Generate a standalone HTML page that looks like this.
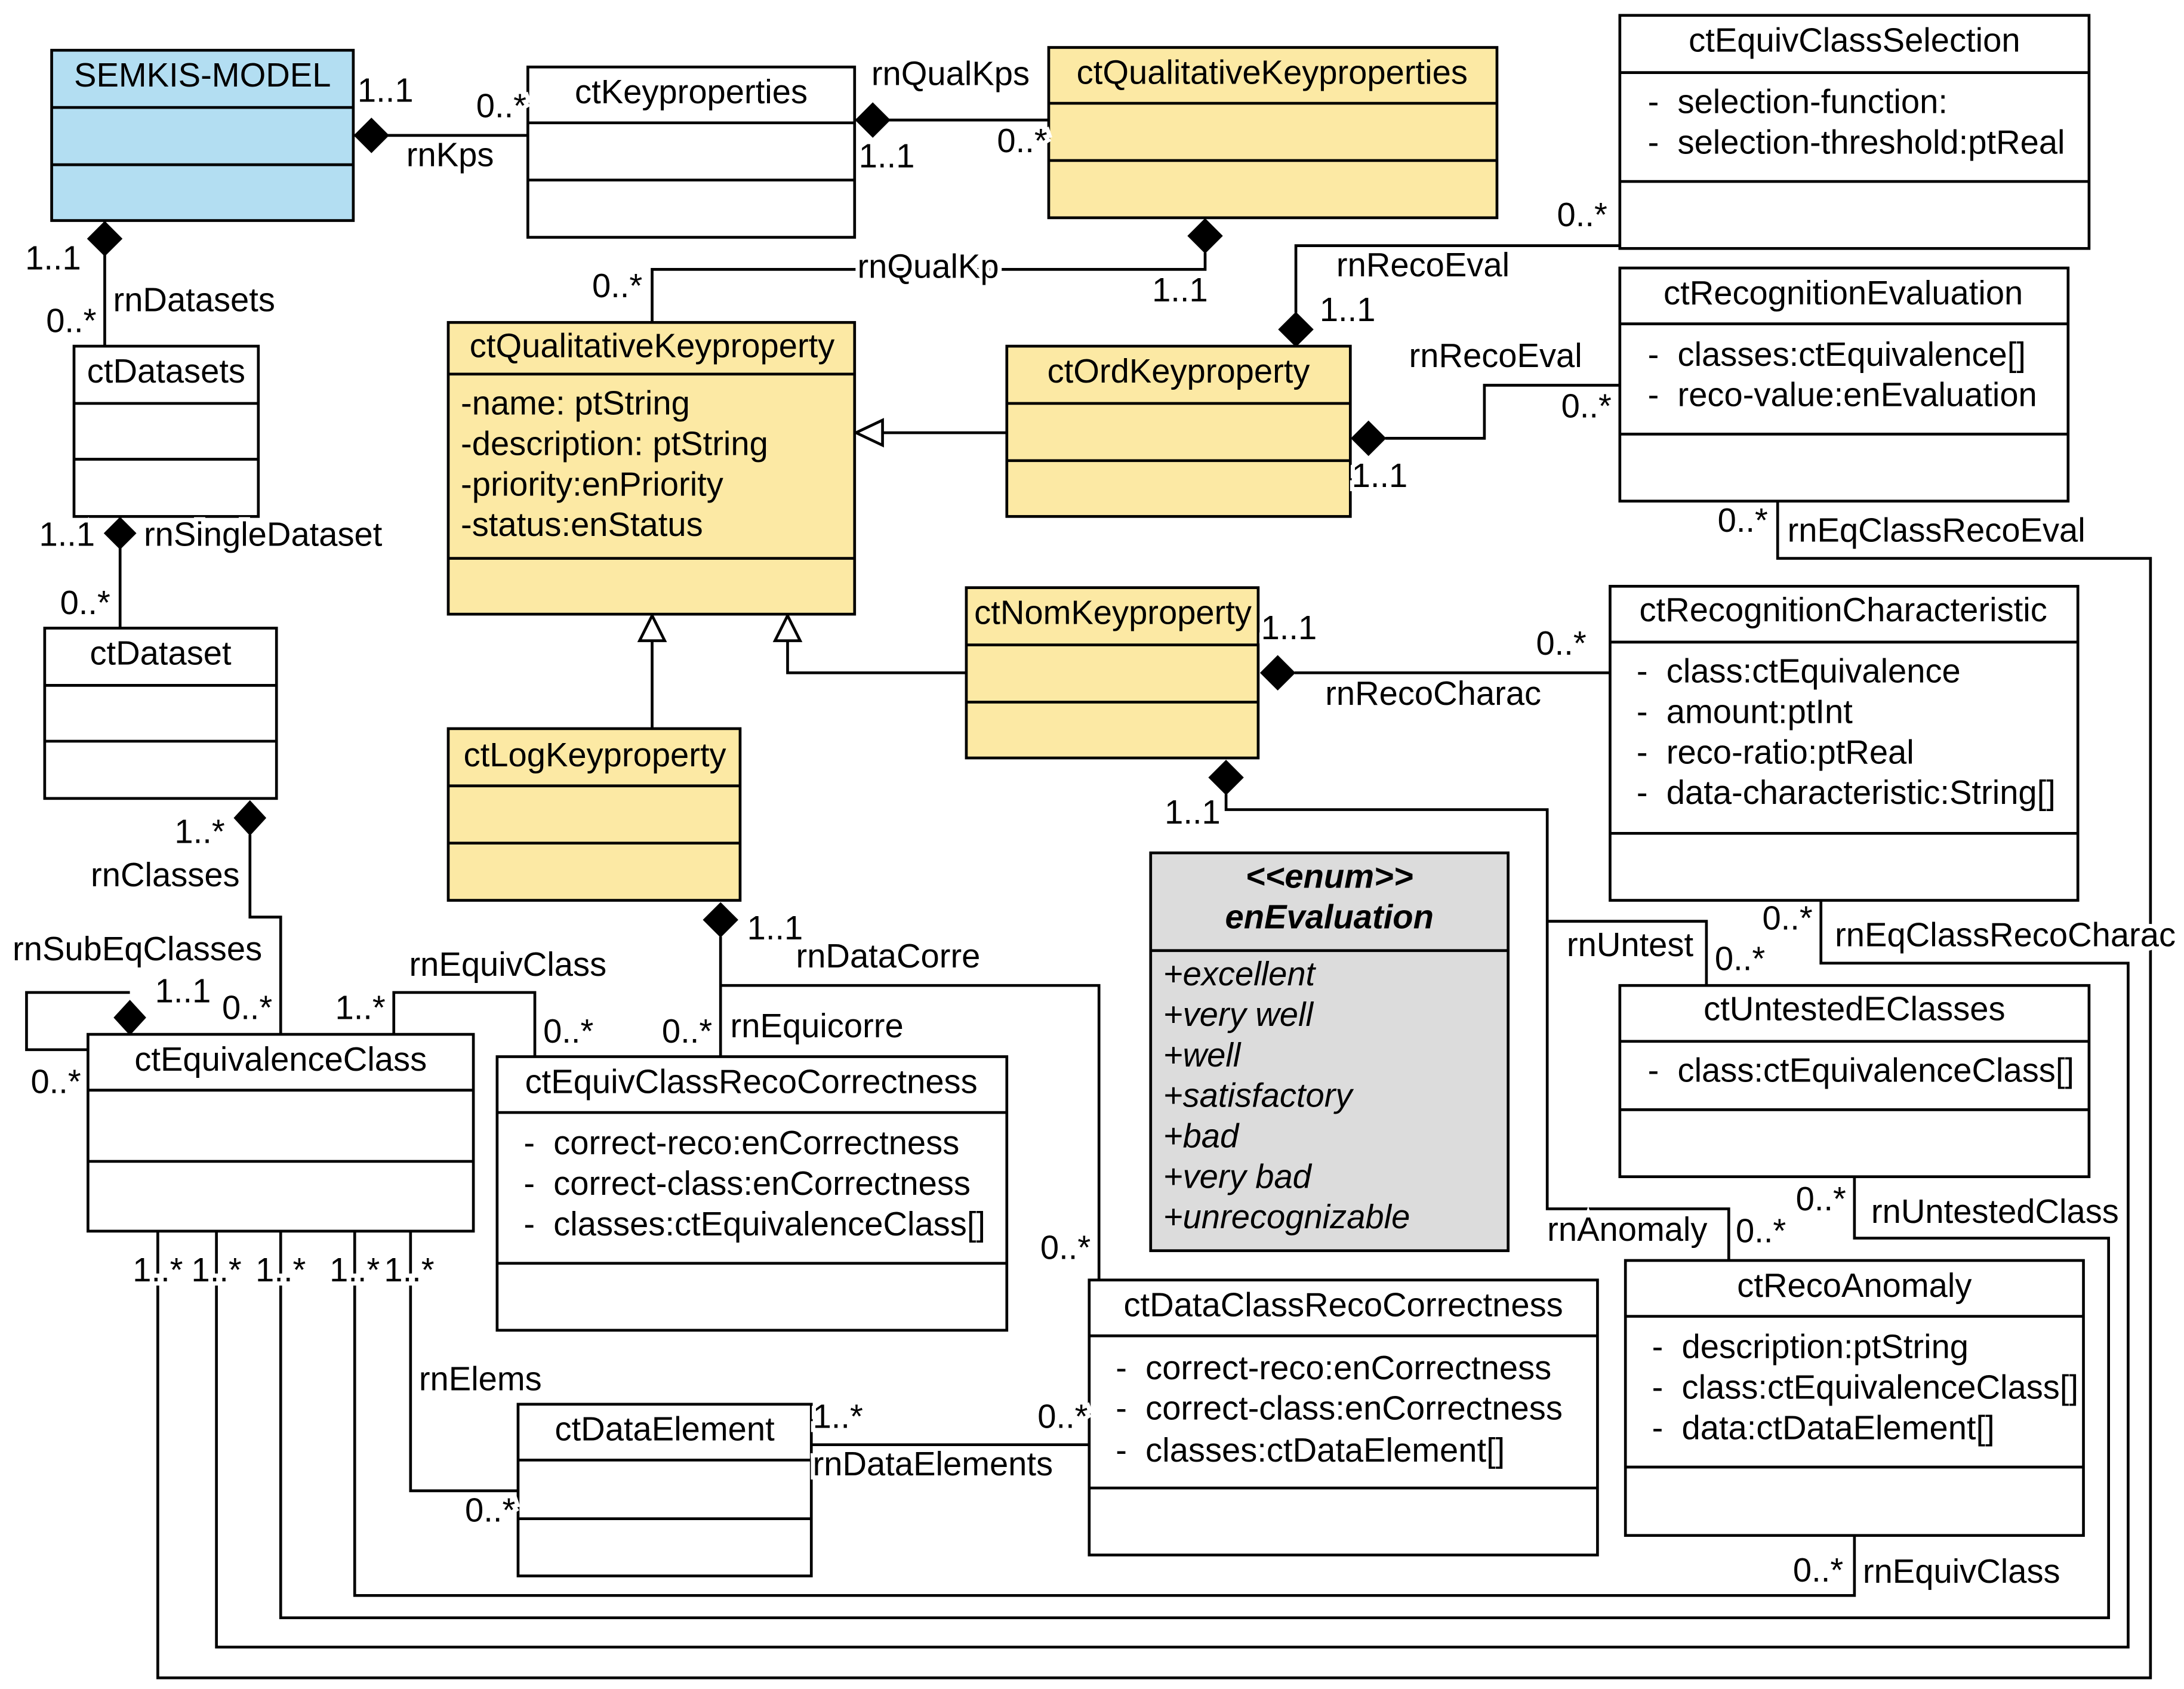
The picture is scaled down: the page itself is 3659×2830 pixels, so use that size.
<!DOCTYPE html>
<html><head><meta charset="utf-8"><style>
html,body{margin:0;padding:0;background:#fff}
svg{display:block}
text{font-family:"Liberation Sans",sans-serif;font-size:24px;fill:#000}
.h{stroke:#fff;stroke-width:6px;paint-order:stroke}
</style></head><body>
<svg width="3659" height="2830" viewBox="0 0 1564 1210" preserveAspectRatio="none" xmlns="http://www.w3.org/2000/svg">
<g fill="none" stroke="#000" stroke-width="2">
<polyline points="253,97 378,97"/>
<polyline points="612,86 751,86"/>
<polyline points="75,158 75,248"/>
<polyline points="86,370 86,450"/>
<polyline points="179,598 179,657 201,657 201,741"/>
<polyline points="93,711 19,711 19,752 63,752"/>
<polyline points="863,181 863,193 467,193 467,231"/>
<polyline points="928,224 928,176 1160,176"/>
<polyline points="992,314 1063,314 1063,276 1160,276"/>
<polyline points="721,310 632,310"/>
<polyline points="467,522 467,459"/>
<polyline points="692,482 564,482 564,459"/>
<polyline points="927,482 1153,482"/>
<polyline points="878,569 878,580 1108,580 1108,866 1238,866 1238,903"/>
<polyline points="1108,660 1222,660 1222,706"/>
<polyline points="516,671 516,757"/>
<polyline points="516,706 787,706 787,917"/>
<polyline points="383,757 383,711 282,711 282,741"/>
<polyline points="1273,359 1273,400 1540,400 1540,1202 113,1202 113,882"/>
<polyline points="1304,645 1304,690 1524,690 1524,1180 155,1180 155,882"/>
<polyline points="1328,843 1328,887 1510,887 1510,1159 201,1159 201,882"/>
<polyline points="1328,1100 1328,1143 254,1143 254,882"/>
<polyline points="294,882 294,1068 371,1068"/>
<polyline points="581,1035 780,1035"/>
</g>
<g fill="#000" stroke="#000" stroke-width="1">
<polygon points="254,97 266,85 278,97 266,109"/>
<polygon points="613,86 625,74 637,86 625,98"/>
<polygon points="75,159 87,171 75,183 63,171"/>
<polygon points="86,371 97,382 86,393 75,382"/>
<polygon points="179,574 190,586 179,598 168,586"/>
<polygon points="93,717 104,729 93,741 82,729"/>
<polygon points="863,157 875,169 863,181 851,169"/>
<polygon points="928,224 940,236 928,248 916,236"/>
<polygon points="968,314 980,302 992,314 980,326"/>
<polygon points="903,482 915,470 927,482 915,494"/>
<polygon points="878,545 890,557 878,569 866,557"/>
<polygon points="516,647 528,659 516,671 504,659"/>
</g>
<g fill="#fff" stroke="#000" stroke-width="2">
<polygon points="613,310 632,301 632,319"/>
<polygon points="467,441 458,459 476,459"/>
<polygon points="564,441 555,459 573,459"/>
</g>
<g stroke="#000" stroke-width="2">
<rect x="37" y="36" width="216" height="122" fill="#b3def2"/>
<rect x="378" y="48" width="234" height="122" fill="#fff"/>
<rect x="751" y="34" width="321" height="122" fill="#fce9a4"/>
<rect x="1160" y="11" width="336" height="167" fill="#fff"/>
<rect x="1160" y="192" width="321" height="167" fill="#fff"/>
<rect x="321" y="231" width="291" height="209" fill="#fce9a4"/>
<rect x="721" y="248" width="246" height="122" fill="#fce9a4"/>
<rect x="53" y="248" width="132" height="122" fill="#fff"/>
<rect x="32" y="450" width="166" height="122" fill="#fff"/>
<rect x="692" y="421" width="209" height="122" fill="#fce9a4"/>
<rect x="321" y="522" width="209" height="123" fill="#fce9a4"/>
<rect x="1153" y="420" width="335" height="225" fill="#fff"/>
<rect x="824" y="611" width="256" height="285" fill="#dcdcdc"/>
<rect x="63" y="741" width="276" height="141" fill="#fff"/>
<rect x="356" y="757" width="365" height="196" fill="#fff"/>
<rect x="1160" y="706" width="336" height="137" fill="#fff"/>
<rect x="1164" y="903" width="328" height="197" fill="#fff"/>
<rect x="780" y="917" width="364" height="197" fill="#fff"/>
<rect x="371" y="1006" width="210" height="123" fill="#fff"/>
</g>
<g stroke="#000" stroke-width="2" fill="none">
<path d="M37 77H253M37 118H253"/>
<path d="M378 88H612M378 129H612"/>
<path d="M751 74H1072M751 115H1072"/>
<path d="M1160 52H1496M1160 130H1496"/>
<path d="M1160 232H1481M1160 311H1481"/>
<path d="M321 268H612M321 400H612"/>
<path d="M721 289H967M721 330H967"/>
<path d="M53 289H185M53 329H185"/>
<path d="M32 491H198M32 531H198"/>
<path d="M692 462H901M692 503H901"/>
<path d="M321 563H530M321 604H530"/>
<path d="M1153 460H1488M1153 597H1488"/>
<path d="M824 681H1080"/>
<path d="M63 781H339M63 832H339"/>
<path d="M356 797H721M356 905H721"/>
<path d="M1160 746H1496M1160 795H1496"/>
<path d="M1164 943H1492M1164 1051H1492"/>
<path d="M780 957H1144M780 1066H1144"/>
<path d="M371 1046H581M371 1088H581"/>
</g>
<g text-anchor="middle">
<text x="145" y="62">SEMKIS-MODEL</text>
<text x="495" y="74">ctKeyproperties</text>
<text x="911" y="60">ctQualitativeKeyproperties</text>
<text x="1328" y="37">ctEquivClassSelection</text>
<text x="1320" y="218">ctRecognitionEvaluation</text>
<text x="467" y="256">ctQualitativeKeyproperty</text>
<text x="844" y="274">ctOrdKeyproperty</text>
<text x="119" y="274">ctDatasets</text>
<text x="115" y="476">ctDataset</text>
<text x="797" y="447">ctNomKeyproperty</text>
<text x="426" y="549">ctLogKeyproperty</text>
<text x="1320" y="445">ctRecognitionCharacteristic</text>
<text x="952" y="636" font-weight="bold" font-style="italic">&lt;&lt;enum&gt;&gt;</text>
<text x="952" y="665" font-weight="bold" font-style="italic">enEvaluation</text>
<text x="201" y="767">ctEquivalenceClass</text>
<text x="538" y="783">ctEquivClassRecoCorrectness</text>
<text x="1328" y="731">ctUntestedEClasses</text>
<text x="1328" y="929">ctRecoAnomaly</text>
<text x="962" y="943">ctDataClassRecoCorrectness</text>
<text x="476" y="1032">ctDataElement</text>
</g>
<g>
<text x="1180" y="81">-&#160;&#160;selection-function:</text>
<text x="1180" y="110">-&#160;&#160;selection-threshold:ptReal</text>
<text x="1180" y="262">-&#160;&#160;classes:ctEquivalence[]</text>
<text x="1180" y="291">-&#160;&#160;reco-value:enEvaluation</text>
<text x="330" y="297">-name: ptString</text>
<text x="330" y="326">-description: ptString</text>
<text x="330" y="355">-priority:enPriority</text>
<text x="330" y="384">-status:enStatus</text>
<text x="1172" y="489">-&#160;&#160;class:ctEquivalence</text>
<text x="1172" y="518">-&#160;&#160;amount:ptInt</text>
<text x="1172" y="547">-&#160;&#160;reco-ratio:ptReal</text>
<text x="1172" y="576">-&#160;&#160;data-characteristic:String[]</text>
<g font-style="italic">
<text x="833" y="706">+excellent</text>
<text x="833" y="735">+very well</text>
<text x="833" y="764">+well</text>
<text x="833" y="793">+satisfactory</text>
<text x="833" y="822">+bad</text>
<text x="833" y="851">+very bad</text>
<text x="833" y="880">+unrecognizable</text>
</g>
<text x="375" y="827">-&#160;&#160;correct-reco:enCorrectness</text>
<text x="375" y="856">-&#160;&#160;correct-class:enCorrectness</text>
<text x="375" y="885">-&#160;&#160;classes:ctEquivalenceClass[]</text>
<text x="1180" y="775">-&#160;&#160;class:ctEquivalenceClass[]</text>
<text x="1183" y="973">-&#160;&#160;description:ptString</text>
<text x="1183" y="1002">-&#160;&#160;class:ctEquivalenceClass[]</text>
<text x="1183" y="1031">-&#160;&#160;data:ctDataElement[]</text>
<text x="799" y="988">-&#160;&#160;correct-reco:enCorrectness</text>
<text x="799" y="1017">-&#160;&#160;correct-class:enCorrectness</text>
<text x="799" y="1047">-&#160;&#160;classes:ctDataElement[]</text>
</g>
<g class="h">
<text x="256" y="73">1..1</text>
<text x="341" y="84">0..*</text>
<text x="291" y="119">rnKps</text>
<text x="624" y="61">rnQualKps</text>
<text x="615" y="120">1..1</text>
<text x="714" y="109">0..*</text>
<text x="18" y="193">1..1</text>
<text x="33" y="238">0..*</text>
<text x="81" y="223">rnDatasets</text>
<text x="28" y="391">1..1</text>
<text x="103" y="391">rnSingleDataset</text>
<text x="43" y="440">0..*</text>
<text x="125" y="604">1..*</text>
<text x="65" y="635">rnClasses</text>
<text x="9" y="688">rnSubEqClasses</text>
<text x="111" y="718">1..1</text>
<text x="159" y="730">0..*</text>
<text x="22" y="783">0..*</text>
<text x="614" y="199">rnQualKp</text>
<text x="825" y="216">1..1</text>
<text x="424" y="213">0..*</text>
<text x="957" y="198">rnRecoEval</text>
<text x="945" y="230">1..1</text>
<text x="1115" y="162">0..*</text>
<text x="1009" y="263">rnRecoEval</text>
<text x="1118" y="299">0..*</text>
<text x="968" y="349">1..1</text>
<text x="903" y="458">1..1</text>
<text x="1100" y="469">0..*</text>
<text x="949" y="505">rnRecoCharac</text>
<text x="834" y="590">1..1</text>
<text x="1230" y="381">0..*</text>
<text x="1280" y="388">rnEqClassRecoEval</text>
<text x="1262" y="666">0..*</text>
<text x="1314" y="678">rnEqClassRecoCharac</text>
<text x="1122" y="685">rnUntest</text>
<text x="1228" y="695">0..*</text>
<text x="1286" y="867">0..*</text>
<text x="1340" y="876">rnUntestedClass</text>
<text x="1108" y="889">rnAnomaly</text>
<text x="1243" y="890">0..*</text>
<text x="535" y="673">1..1</text>
<text x="570" y="693">rnDataCorre</text>
<text x="474" y="747">0..*</text>
<text x="523" y="743">rnEquicorre</text>
<text x="745" y="902">0..*</text>
<text x="293" y="699">rnEquivClass</text>
<text x="240" y="730">1..*</text>
<text x="389" y="747">0..*</text>
<text x="95" y="918">1..*</text>
<text x="137" y="918">1..*</text>
<text x="183" y="918">1..*</text>
<text x="236" y="918">1..*</text>
<text x="275" y="918">1..*</text>
<text x="300" y="996">rnElems</text>
<text x="333" y="1090">0..*</text>
<text x="1284" y="1133">0..*</text>
<text x="1334" y="1134">rnEquivClass</text>
<text x="582" y="1023">1..*</text>
<text x="743" y="1023">0..*</text>
<text x="582" y="1057">rnDataElements</text>
</g>
</svg>
</body></html>
